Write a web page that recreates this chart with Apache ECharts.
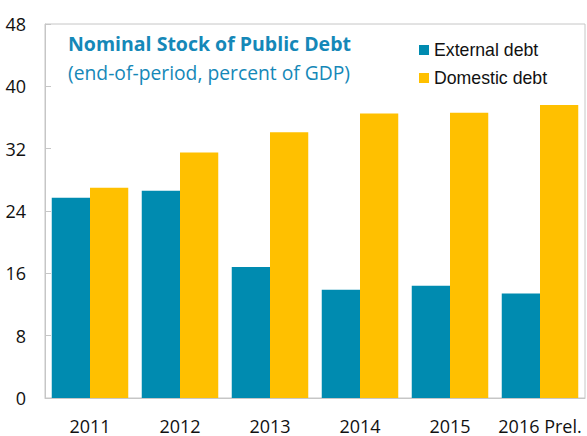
<!DOCTYPE html>
<html>
<head>
<meta charset="utf-8">
<script src="https://cdn.jsdelivr.net/npm/echarts@6/dist/echarts.min.js"></script>
<style>
  html, body { margin: 0; padding: 0; background: #fff; }
</style>
</head>
<body>
<div id="debt" style="width: 587px;height:436px;"></div>
<script type="text/javascript">
	// data (percent of GDP)
	var years = ['2011', '2012', '2013', '2014', '2015', '2016 Prel.'];
	var externalDebt = [25.7, 26.6, 16.8, 13.9, 14.4, 13.4];
	var domesticDebt = [27.0, 31.5, 34.1, 36.5, 36.6, 37.6];
	var yTicks = [0, 8, 16, 24, 32, 40, 48];

	var chart = echarts.init(document.getElementById('debt'), null, {
		renderer: 'svg'
	});

	var axisGrey = '#c6c6c6';

	chart.setOption({
		animation: false,
		title: {
			text: 'Nominal Stock of Public Debt',
			subtext: '(end-of-period, percent of GDP)',
			left: 68,
			top: 33,
			padding: 0,
			itemGap: 9,
			textStyle: {
				fontFamily: 'Open Sans',
				fontWeight: 'bold',
				fontSize: 19.5,
				lineHeight: 20,
				color: '#1588b8'
			},
			subtextStyle: {
				fontFamily: 'Open Sans',
				fontSize: 19.3,
				lineHeight: 20,
				color: '#1588b8'
			}
		},
		legend: {
			orient: 'vertical',
			left: 419,
			top: 41,
			padding: 0,
			itemWidth: 10,
			itemHeight: 10,
			itemGap: 10,
			icon: 'rect',
			data: ['External debt', 'Domestic debt'],
			textStyle: {
				fontFamily: 'Liberation Sans',
				fontSize: 17.7,
				lineHeight: 17,
				color: '#111'
			}
		},
		grid: {
			left: 45,
			right: 2,
			top: 24,
			bottom: 38,
			show: true,
			borderColor: axisGrey,
			borderWidth: 1
		},
		xAxis: {
			type: 'category',
			data: years,
			axisLine: { lineStyle: { color: axisGrey } },
			axisTick: { inside: true, length: 6, lineStyle: { color: axisGrey } },
			axisLabel: {
				interval: 0,
				margin: 19,
				fontFamily: 'Open Sans',
				fontSize: 18,
				lineHeight: 17,
				color: '#111'
			}
		},
		yAxis: {
			type: 'value',
			min: yTicks[0],
			max: yTicks[yTicks.length - 1],
			interval: yTicks[1] - yTicks[0],
			splitLine: { show: false },
			axisLine: { show: true, lineStyle: { color: axisGrey } },
			axisTick: { show: true, inside: true, length: 6, lineStyle: { color: axisGrey } },
			axisLabel: {
				margin: 19,
				fontFamily: 'Open Sans',
				fontSize: 18,
				color: '#111'
			}
		},
		series: [{
			name: 'External debt',
			type: 'bar',
			data: externalDebt,
			barGap: '0%',
			barCategoryGap: '15%',
			itemStyle: { color: '#008bb0' }
		}, {
			name: 'Domestic debt',
			type: 'bar',
			data: domesticDebt,
			barGap: '0%',
			barCategoryGap: '15%',
			itemStyle: { color: '#ffc000' }
		}]
	});
</script>
</body>
</html>
